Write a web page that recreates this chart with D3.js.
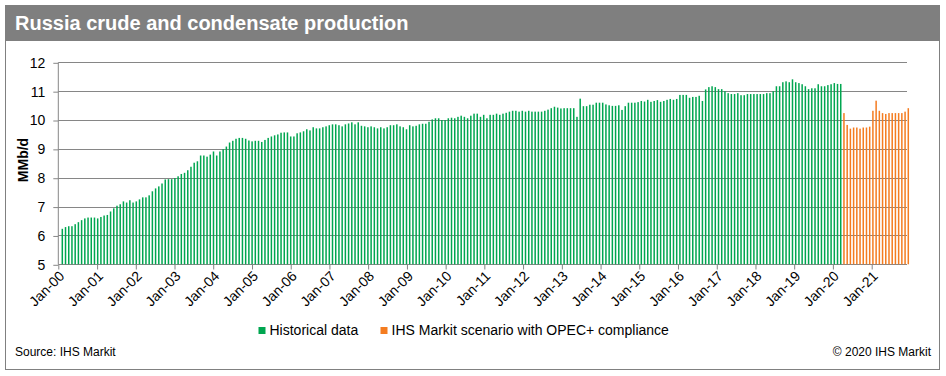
<!DOCTYPE html>
<html><head><meta charset="utf-8">
<script src="https://cdn.jsdelivr.net/npm/d3@7"></script>
<style>
body{margin:0;background:#fff}
svg{display:block;font-family:"Liberation Sans",Arial,sans-serif}
</style>
</head><body>
<svg id="chart" width="946" height="376"></svg>
<script>
// ---------- data ----------
const chartTitle = "Russia crude and condensate production";
const yAxisTitle = "MMb/d";
const yTickValues = [5, 6, 7, 8, 9, 10, 11, 12];
const tickYears = d3.range(2000, 2022);           // Jan-00 … Jan-21
const seriesNames = ["Historical data", "IHS Markit scenario with OPEC+ compliance"];
const seriesColors = ["#00a650", "#f47c20"];
const sourceText = "Source: IHS Markit";
const copyrightText = "\u00a9 2020 IHS Markit";

// Historical data, Jan-2000 … Mar-2020 (MMb/d)
const historical = [
  6.23, 6.29, 6.32, 6.32, 6.39, 6.46, 6.53, 6.59, 6.62, 6.62, 6.62, 6.59,        // 2000
  6.64, 6.69, 6.71, 6.83, 6.94, 7.03, 7.08, 7.18, 7.14, 7.22, 7.14, 7.18,        // 2001
  7.25, 7.32, 7.32, 7.39, 7.53, 7.63, 7.70, 7.80, 7.94, 7.95, 7.95, 7.99,        // 2002
  8.05, 8.13, 8.17, 8.26, 8.38, 8.52, 8.57, 8.77, 8.77, 8.73, 8.80, 8.91,        // 2003
  8.77, 8.91, 8.99, 9.08, 9.22, 9.28, 9.35, 9.38, 9.38, 9.35, 9.29, 9.26,        // 2004
  9.28, 9.28, 9.24, 9.31, 9.38, 9.43, 9.47, 9.50, 9.56, 9.57, 9.57, 9.43,        // 2005
  9.43, 9.54, 9.57, 9.61, 9.68, 9.64, 9.75, 9.71, 9.71, 9.75, 9.78, 9.82,        // 2006
  9.85, 9.85, 9.82, 9.78, 9.85, 9.88, 9.92, 9.85, 9.92, 9.80, 9.78, 9.75,        // 2007
  9.78, 9.75, 9.71, 9.75, 9.71, 9.75, 9.82, 9.82, 9.85, 9.78, 9.75, 9.68,        // 2008
  9.82, 9.78, 9.80, 9.85, 9.87, 9.87, 9.94, 10.02, 10.06, 10.06, 10.00, 10.00,   // 2009
  10.06, 10.08, 10.06, 10.11, 10.15, 10.11, 10.06, 10.15, 10.22, 10.22, 10.11, 10.18, // 2010
  10.06, 10.18, 10.18, 10.22, 10.18, 10.22, 10.25, 10.29, 10.32, 10.32, 10.29, 10.32, // 2011
  10.29, 10.32, 10.29, 10.29, 10.29, 10.29, 10.32, 10.36, 10.41, 10.46, 10.43, 10.40, // 2012
  10.41, 10.41, 10.41, 10.41, 10.11, 10.74, 10.48, 10.48, 10.53, 10.53, 10.60, 10.60, // 2013
  10.60, 10.54, 10.51, 10.49, 10.49, 10.51, 10.35, 10.48, 10.60, 10.60, 10.60, 10.62, // 2014
  10.66, 10.64, 10.70, 10.63, 10.66, 10.69, 10.63, 10.66, 10.70, 10.73, 10.70, 10.73, // 2015
  10.87, 10.87, 10.87, 10.77, 10.80, 10.80, 10.84, 10.66, 11.06, 11.14, 11.17, 11.14, // 2016
  11.07, 11.07, 11.00, 10.93, 10.90, 10.90, 10.93, 10.86, 10.86, 10.90, 10.90, 10.90, // 2017
  10.90, 10.90, 10.90, 10.93, 10.93, 11.00, 11.17, 11.17, 11.31, 11.34, 11.31, 11.41, // 2018
  11.31, 11.28, 11.24, 11.17, 11.07, 11.10, 11.10, 11.24, 11.17, 11.17, 11.21, 11.24, // 2019
  11.28, 11.25, 11.25                                                              // 2020 Q1
];

// IHS Markit scenario, Apr-2020 … Dec-2021 (MMb/d)
const scenario = [
  10.24, 9.83, 9.70, 9.74, 9.74, 9.70, 9.74, 9.74, 9.77,                          // Apr–Dec 2020
  10.32, 10.67, 10.32, 10.24, 10.21, 10.24, 10.24, 10.24, 10.24, 10.24, 10.29, 10.41 // 2021
];

// ---------- build ----------
const months = d3.timeMonth.range(new Date(2000, 0, 1), new Date(2022, 0, 1));
const rows = months.map((m, i) => i < historical.length
  ? {month: m, value: historical[i], s: 0}
  : {month: m, value: scenario[i - historical.length], s: 1});

const svg = d3.select("#chart");
const plotL = 58.3, plotR = 907, plotT = 62.3, plotB = 264.3;
const gridColor = "#868686";

// frame + title bar
svg.append("rect").attr("x", 5.5).attr("y", 5.5).attr("width", 934).attr("height", 364)
  .attr("fill", "#fff").attr("stroke", "#808080").attr("stroke-width", 1);
svg.append("rect").attr("x", 5).attr("y", 5).attr("width", 935).attr("height", 36)
  .attr("fill", "#7f7f7f");
svg.append("text").attr("x", 15).attr("y", 30).attr("fill", "#fff")
  .attr("font-size", 20).attr("font-weight", "bold").text(chartTitle);

const y = d3.scaleLinear().domain([5, 12]).range([plotB, plotT]);
const xb = d3.scaleBand().domain(months).range([60.7, 909.9]);
const xt = d3.scaleTime().domain([new Date(2000, 0, 1), new Date(2022, 0, 1)]).range([plotL, 910.4]);

// gridlines
svg.append("g").selectAll("line").data(yTickValues).join("line")
  .attr("x1", plotL).attr("x2", plotR)
  .attr("y1", d => Math.round(y(d)) + 0.5).attr("y2", d => Math.round(y(d)) + 0.5)
  .attr("stroke", gridColor).attr("stroke-width", 1);
svg.append("line").attr("x1", plotL).attr("x2", plotL)
  .attr("y1", Math.round(y(12)) + 0.5).attr("y2", Math.round(y(5)) + 0.5)
  .attr("stroke", gridColor);

// y axis
const yAxis = svg.append("g").attr("transform", `translate(${plotL},0.5)`)
  .call(d3.axisLeft(y).tickValues(yTickValues).tickSize(5).tickPadding(8).tickFormat(d3.format("d")));
yAxis.select(".domain").remove();
yAxis.selectAll("line").attr("stroke", gridColor);
yAxis.selectAll("text").attr("font-size", 14).attr("fill", "#000")
  .attr("font-family", '"Liberation Sans",Arial,sans-serif');

svg.append("text").attr("transform", `translate(28,160) rotate(-90)`)
  .attr("text-anchor", "middle").attr("font-size", 14).attr("font-weight", "bold")
  .text(yAxisTitle);

// bars
const barW = 1.5;
svg.append("g").selectAll("rect").data(rows).join("rect")
  .attr("x", d => xb(d.month) + (xb.bandwidth() - barW) / 2)
  .attr("width", barW)
  .attr("y", d => y(d.value))
  .attr("height", d => y(5) - y(d.value))
  .attr("fill", d => seriesColors[d.s]);

// x axis
const xAxis = svg.append("g").attr("transform", `translate(0,${Math.round(plotB) + 0.5})`)
  .call(d3.axisBottom(xt).tickValues(tickYears.map(yr => new Date(yr, 0, 1)))
    .tickSize(5).tickFormat(d3.timeFormat("%b-%y")));
xAxis.select(".domain").remove();
xAxis.selectAll("line").attr("stroke", gridColor);
xAxis.selectAll("text")
  .attr("x", 0).attr("y", 0).attr("dy", "0.35em")
  .attr("text-anchor", "end")
  .attr("transform", "translate(3,9) rotate(-45)")
  .attr("font-size", 14).attr("fill", "#000")
  .attr("font-family", '"Liberation Sans",Arial,sans-serif');

// legend
const legendX = [258.5, 380.5];
const lg = svg.append("g").selectAll("g").data(seriesNames).join("g")
  .attr("transform", (d, i) => `translate(${legendX[i]},0)`);
lg.append("rect").attr("x", 0).attr("y", 327).attr("width", 7).attr("height", 7)
  .attr("fill", (d, i) => seriesColors[i]);
lg.append("text").attr("x", 11).attr("y", 335).attr("font-size", 14).text(d => d);

// footer
svg.append("text").attr("x", 15).attr("y", 356).attr("font-size", 12).text(sourceText);
svg.append("text").attr("x", 931).attr("y", 356).attr("font-size", 12)
  .attr("text-anchor", "end").text(copyrightText);
</script>
</body></html>
